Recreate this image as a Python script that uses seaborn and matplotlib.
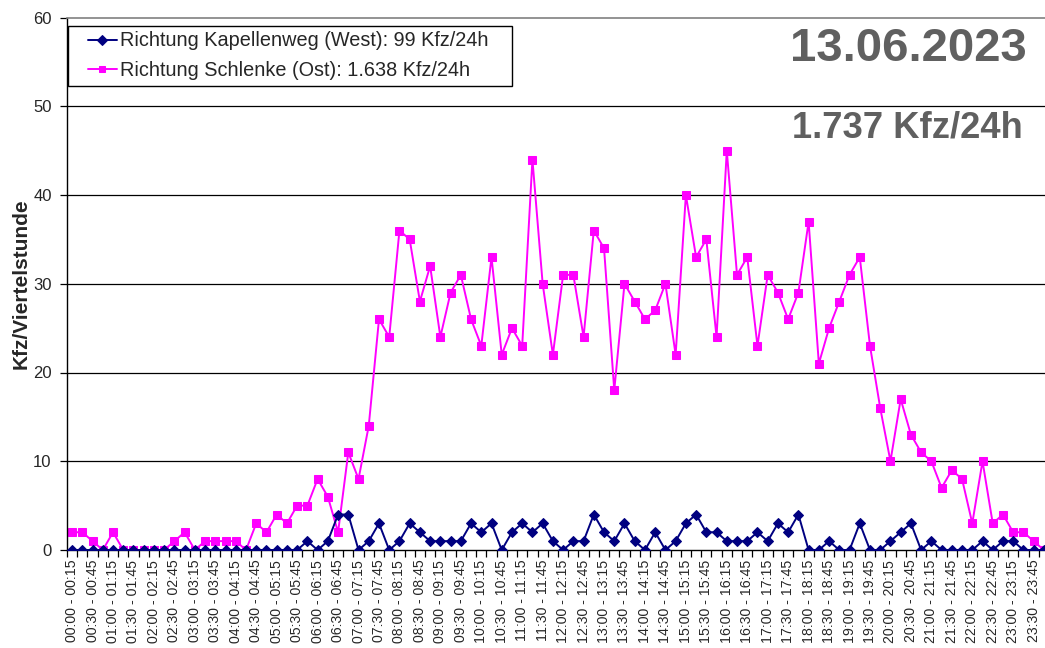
import numpy as np
import pandas as pd
import matplotlib
matplotlib.use("Agg")
import matplotlib.pyplot as plt
from matplotlib.patches import Rectangle
import seaborn as sns

# ---- data ----
west = [0,0,0,0,0,0,0,0,0,0, 0,0,0,0,0,0,0,0,0,0,
        0,0,0,1,0,1,4,4,0,1, 3,0,1,3,2,1,1,1,1,3,
        2,3,0,2,3,2,3,1,0,1, 1,4,2,1,3,1,0,2,0,1,
        3,4,2,2,1,1,1,2,1,3, 2,4,0,0,1,0,0,3,0,0,
        1,2,3,0,1,0,0,0,0,1, 0,1,1,0,0,0]
ost = [2,2,1,0,2,0,0,0,0,0, 1,2,0,1,1,1,1,0,3,2,
       4,3,5,5,8,6,2,11,8,14, 26,24,36,35,28,32,24,29,31,26,
       23,33,22,25,23,44,30,22,31,31, 24,36,34,18,30,28,26,27,30,22,
       40,33,35,24,45,31,33,23,31,29, 26,29,37,21,25,28,31,33,23,16,
       10,17,13,11,10,7,9,8,3,10, 3,4,2,2,1,0]
starts = [f"{h:02d}:{m:02d}" for h in range(24) for m in (0, 15, 30, 45)]
ends = starts[1:] + ["24:00"]
intervals = [f"{s} - {e}" for s, e in zip(starts, ends)]
label_west = "Richtung Kapellenweg (West): 99 Kfz/24h"
label_ost = "Richtung Schlenke (Ost): 1.638 Kfz/24h"
date_text = "13.06.2023"
total_text = "1.737 Kfz/24h"
y_ticks = [0, 10, 20, 30, 40, 50, 60]

# ---- style ----
sns.set_style("white")
plt.rcParams["font.family"] = ["Liberation Sans", "DejaVu Sans"]

W, H = 1045, 648
fig = plt.figure(figsize=(W / 100, H / 100), dpi=100)
ax_left, ax_right, ax_top, ax_bot = 67, 1049, 17.5, 550
ax = fig.add_axes([ax_left / W, 1 - ax_bot / H, (ax_right - ax_left) / W, (ax_bot - ax_top) / H])

df = pd.DataFrame({"pos": np.arange(len(intervals)), "west": west, "ost": ost})

# gridlines
for yv in y_ticks[1:-1]:
    ax.axhline(yv, color="black", lw=0.9, zorder=0)

sns.lineplot(data=df, x="pos", y="west", ax=ax, color="#000080", lw=1.4,
             marker="D", markersize=5.5, markeredgecolor="#000080",
             markerfacecolor="#000080", label=label_west, zorder=3)
sns.lineplot(data=df, x="pos", y="ost", ax=ax, color="#FF00FF", lw=1.4,
             marker="s", markersize=6.2, markeredgecolor="#FF00FF",
             markerfacecolor="#FF00FF", label=label_ost, zorder=2)

ax.set_xlim(-0.5, len(intervals) - 0.5)
ax.set_ylim(0, 60)
ax.set_yticks(y_ticks)
ax.set_yticklabels([str(v) for v in y_ticks], fontsize=12)
ax.tick_params(axis="y", direction="out", length=5, width=0.9, color="black", pad=6, left=True)

major = np.arange(0, len(intervals), 2)
ax.set_xticks(major)
ax.set_xticklabels([intervals[i] for i in major], rotation=90, fontsize=10.2)
ax.set_xticks(np.arange(-0.5, len(intervals), 1), minor=True)
ax.tick_params(axis="x", which="major", length=0, pad=7)
ax.tick_params(axis="x", which="minor", direction="out", length=5, width=0.9, color="black", bottom=True)

ax.set_xlabel("")
ax.set_ylabel("Kfz/Viertelstunde", fontsize=15, fontweight="bold", labelpad=2)

for s in ("left", "bottom"):
    ax.spines[s].set_color("black")
    ax.spines[s].set_linewidth(1.0)
ax.spines["top"].set_color("#808080")
ax.spines["top"].set_linewidth(1.2)
ax.spines["right"].set_visible(False)

# legend: content without frame, frame drawn as a figure rectangle
leg = ax.legend(loc="upper left",
                bbox_to_anchor=(88 / W, 1 - 31.5 / H), bbox_transform=fig.transFigure,
                borderaxespad=0, frameon=False,
                fontsize=14.3, handlelength=1.45, handletextpad=0.15,
                labelspacing=0.55, borderpad=0)
for h in leg.legend_handles:
    h.set_markersize(5)
fig.patches.append(Rectangle((68 / W, 1 - 86 / H), (512 - 68) / W, (86 - 26) / H,
                             transform=fig.transFigure, fill=False,
                             edgecolor="black", lw=1.0, zorder=5))

fig.text(1027 / W, 1 - 49 / H, date_text, ha="right", va="center",
         fontsize=34, fontweight="bold", color="#606060")
fig.text(1023 / W, 1 - 128 / H, total_text, ha="right", va="center",
         fontsize=26.2, fontweight="bold", color="#606060")

fig.savefig("out.png", dpi=100)
